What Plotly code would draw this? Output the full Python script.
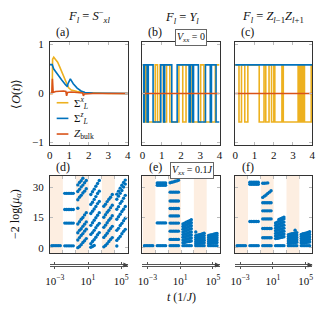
import plotly.graph_objects as go

W, H = 322, 313

# ---------------- data ----------------
# panel (a): F_l = S^-_{xl}
a_sx_t = [0, 0.12, 0.14, 0.2, 0.3, 0.4, 0.5, 0.6, 0.7, 0.8, 0.9, 0.95, 1.1, 1.4, 1.8, 2.2, 2.6, 3.0, 4.0]
a_sx_v = [0, 0.0, 0.70, 0.74, 0.69, 0.64, 0.55, 0.45, 0.36, 0.26, 0.16, 0.12, 0.07, 0.04, 0.02, 0.01, 0.0, 0.0, 0.0]
a_sz_t = [0, 0.12, 0.2, 0.4, 0.6, 0.8, 0.9, 0.93, 1.05, 1.2, 1.4, 1.6, 1.8, 2.2, 3.0, 4.0]
a_sz_v = [0.59, 0.59, 0.50, 0.38, 0.28, 0.18, 0.14, 0.20, 0.30, 0.20, 0.11, 0.05, 0.02, 0.01, 0.0, 0.0]
a_zb_t = [0, 0.1, 0.13, 0.17, 0.3, 0.5, 0.7, 0.82, 0.86, 0.9, 1.1, 1.4, 1.68, 1.72, 1.76, 2.2, 4.0]
a_zb_v = [0, 0, 0.30, 0.02, 0.04, 0.05, 0.05, 0.04, -0.05, 0.02, 0.03, 0.02, 0.01, -0.05, -0.01, 0, 0]

# panel (b): F_l = Y_l  (switching times, levels alternate)
lvl = 0.585
b_sx_t = [0, 0.06, 0.13, 0.18, 0.66, 0.78, 0.91, 1.08, 1.25, 1.42, 1.89, 2.09, 2.26, 2.52, 3.02, 3.19, 3.78, 4.0]
b_sz_t = [0, 0.06, 0.1, 0.24, 0.3, 0.55, 0.95, 1.1, 1.15, 1.52, 1.8, 2.42, 2.48, 2.6, 2.65, 2.9, 3.27, 3.52, 3.58, 3.82, 4.0]
b_zb_t = [0, 4.0]
b_zb_v = [0, 0]

# panel (c): F_l = Z_{l-1}Z_{l+1}
c_sx_t = [0, 0.2, 0.33, 0.5, 0.66, 1.25, 1.5, 1.59, 1.76, 1.89, 2.01, 2.06, 2.43, 2.5, 3.27, 3.34, 3.42, 3.5,
          3.55, 3.6, 3.95, 4.0]
c_sz_t = [0, 4.0]
c_sz_v = [lvl, lvl]
c_zb_t = [0, 4.0]
c_zb_v = [0, 0]

# entanglement spectra -2 log(mu_alpha): per band, lines of 6 columns
col_offsets = [0.15, 0.28, 0.41, 0.54, 0.67, 0.80]
shaded_bands = [0, 2, 4]

d_bands = [
    [[1.0] * 6],
    [[0.9] * 6, [12.2] * 6, [19.0] * 6, [27.0] * 6],
    [[0.0, 0.6, 1.5, 2.6, 3.4, 4.5],
     [3.8, 5.0, 6.1, 7.0, 8.2, 9.2],
     [7.4, 8.6, 9.4, 10.6, 11.7, 12.8],
     [11.8, 12.9, 14.1, 15.0, 16.3, 17.4],
     [19.6, None, None, None, None, None],
     [23.8, 25.1, 26.0, 27.2, 28.1, 29.3],
     [27.9, 29.0, 30.2, 31.1, 32.3, 33.4],
     [31.2, 32.4, 33.3, 34.5, None, None]],
    [[26.4, 27.8, 29.1, 30.5, 31.9, 33.4],
     [21.5, 22.6, 24.0, 25.4, 26.9, 28.1],
     [17.0, 18.1, 19.2, 20.5, 21.9, 23.0],
     [11.1, 12.4, 13.6, 14.9, 16.1, 17.4],
     [6.6, 7.5, 8.6, 9.9, 11.1, 12.1],
     [2.0, 3.1, 4.0, 5.2, 6.4, 7.5],
     [0.2, 0.6, 1.1, None, None, None]],
    [[20.6, 21.6, 22.9, 24.1, 25.1, 26.4],
     [15.1, 16.4, 17.6, 18.6, 19.9, 21.1],
     [10.1, 11.2, 12.4, 13.6, 14.6, 15.9],
     [5.1, 6.1, 7.2, 8.4, 9.5, 10.6],
     [0.4, 1.1, 2.0, 3.1, 4.1, 5.0]],
    [[24.1, 25.6, 27.0, 28.4, 30.1, 31.6],
     [26.6, 28.1, 29.6, 31.0, 32.4, 33.6],
     [19.1, 20.4, 22.0, 23.1, 24.6, 26.0],
     [14.1, 15.4, 16.6, 18.0, 19.1, 20.5],
     [8.6, 9.6, 11.0, 12.1, 13.4, 14.6],
     [3.6, 4.6, 5.6, 6.9, 8.1, 9.1],
     [0.8, None, None, None, None, None]],
]

e_bands = [
    [[1.0] * 6],
    [[1.0] * 6, [12.3] * 6, [31.0] * 6, [32.2] * 6],
    [[1.0] * 6, [4.1] * 6, [8.2] * 6, [12.2] * 6, [15.8] * 6, [19.5] * 6, [23.2] * 6, [27.6] * 6,
     [32.3, 32.5, 32.7, 33.0, 33.2, 33.5]],
    [[1.0] * 6,
     [2.5, 2.6, 2.8, 3.0, 3.1, 3.3],
     [3.8, 4.0, 4.2, 4.4, 4.6, 4.8],
     [5.2, 5.4, 5.6, 5.9, 6.1, 6.3],
     [6.5, 6.8, 7.0, 7.3, 7.6, 7.8],
     [7.8, 8.1, 8.4, 8.8, 9.1, 9.4],
     [9.2, 9.5, 9.8, 10.2, 10.6, 10.9],
     [10.5, 10.9, 11.2, 11.6, 12.0, 12.4],
     [11.8, 12.2, 12.6, 13.0, 13.4, 13.9]],
    [[1.0] * 6,
     [2.0, 2.1, 2.2, 2.3, 2.4, 2.5],
     [3.0, 3.1, 3.3, 3.4, 3.5, 3.7],
     [4.0, 4.1, 4.3, 4.5, 4.6, 4.8],
     [5.0, 5.2, 5.4, 5.6, 5.8, 6.0],
     [6.0, 6.2, 6.4, 6.6, 6.9, 7.2],
     [7.8, None, None, None, None, None]],
    [[1.0] * 6,
     [2.1, 2.2, 2.3, 2.4, 2.5, 2.6],
     [3.1, 3.2, 3.4, 3.5, 3.6, 3.8],
     [4.1, 4.3, 4.4, 4.6, 4.7, 4.9],
     [5.1, 5.3, 5.5, 5.7, 5.9, 6.1],
     [6.1, 6.3, 6.5, 6.7, 6.9, 7.1]],
]

f_bands = [
    [[1.0] * 6],
    [[1.0] * 6, [13.0] * 6, [31.5] * 6, [32.5] * 6],
    [[1.0] * 6, [4.9] * 6, [9.5] * 6, [14.3] * 6, [18.3] * 6, [22.3] * 6,
     [25.0, 25.6, 26.2, 26.9, 27.6, 28.3],
     [32.0, 32.0, 32.1, 32.2, None, None]],
    [[1.0] * 6,
     [4.5, 4.6, 4.8, 5.0, 5.2, 5.4],
     [5.8, 6.0, 6.2, 6.4, 6.6, 6.8],
     [7.1, 7.3, 7.5, 7.8, 8.0, 8.2],
     [8.4, 8.6, 8.9, 9.2, 9.4, 9.7],
     [9.7, 10.0, 10.3, 10.6, 10.9, 11.2],
     [11.0, 11.3, 11.7, 12.0, 12.4, 12.7],
     [12.3, 12.7, 13.1, 13.5, 13.9, 14.3],
     [None, None, 14.0, 14.4, 14.8, 15.2]],
    [[1.0] * 6,
     [2.2, 2.3, 2.4, 2.5, 2.6, 2.7],
     [3.3, 3.4, 3.5, 3.7, 3.8, 3.9],
     [4.4, 4.5, 4.7, 4.8, 5.0, 5.1],
     [5.5, 5.6, 5.8, 6.0, 6.2, 6.3],
     [6.5, 6.7, 6.9, 7.1, 7.3, 7.5],
     [None, None, None, None, 8.7, None]],
    [[1.0] * 6,
     [2.3, 2.4, 2.5, 2.6, 2.7, 2.8],
     [3.4, 3.5, 3.7, 3.8, 3.9, 4.1],
     [4.5, 4.7, 4.8, 5.0, 5.2, 5.3],
     [5.6, 5.8, 6.0, 6.2, 6.4, 6.6],
     [6.6, 6.9, 7.1, 7.3, 7.6, 7.9]],
]

titles = ["<i>F</i><sub><i>l</i></sub> = <i>S</i><sup>−</sup><sub><i>xl</i></sub>",
          "<i>F</i><sub><i>l</i></sub> = <i>Y</i><sub><i>l</i></sub>",
          "<i>F</i><sub><i>l</i></sub> = <i>Z</i><sub><i>l</i>−1</sub><i>Z</i><sub><i>l</i>+1</sub>"]
panel_labels = ["(a)", "(b)", "(c)", "(d)", "(e)", "(f)"]
legend_names = ["Σ<sup><i>x</i></sup><sub><i>L</i></sub>", "Σ<sup><i>z</i></sup><sub><i>L</i></sub>",
                "<i>Z</i><sub>bulk</sub>"]
time_ticks = [1e-3, 1e1, 1e5]
time_ticktext = ["10<sup>−3</sup>", "10<sup>1</sup>", "10<sup>5</sup>"]

# ---------------- style ----------------
YEL, BLU, RED = "#EDB120", "#0072BD", "#D95319"
FONT = "Liberation Serif"
SHADE = "#fdeee1"

col_px = [(46, 126), (141, 220), (236, 315)]
top_px = (39, 144)
bot_px = (176, 255)
arrow_y = 267


def xd(p):
    return [p[0] / W, p[1] / W]


def yd(p):
    return [1 - p[1] / H, 1 - p[0] / H]


def alt_levels(ts):
    vals = []
    for i in range(len(ts)):
        k = min(i, len(ts) - 2)
        vals.append(lvl if k % 2 == 0 else -lvl)
    return vals


def bands_xy(bands):
    xs, ys = [], []
    for b, lines in enumerate(bands):
        for line in lines:
            for j, v in enumerate(line):
                if v is not None:
                    xs.append(b + col_offsets[j])
                    ys.append(v)
    return xs, ys


fig = go.Figure()

# top row
top_series = [
    [(a_sx_t, a_sx_v, "linear"), (a_sz_t, a_sz_v, "linear"), (a_zb_t, a_zb_v, "linear")],
    [(b_sx_t, alt_levels(b_sx_t), "hv"), (b_sz_t, alt_levels(b_sz_t), "hv"), (b_zb_t, b_zb_v, "linear")],
    [(c_sx_t, alt_levels(c_sx_t), "hv"), (c_sz_t, c_sz_v, "linear"), (c_zb_t, c_zb_v, "linear")],
]
colors = [YEL, BLU, RED]
for p, series in enumerate(top_series):
    ax = "" if p == 0 else str(p + 1)
    for s, (t, v, shape) in enumerate(series):
        fig.add_trace(go.Scatter(x=t, y=v, mode="lines", line=dict(color=colors[s], width=1.6, shape=shape),
                                 name=legend_names[s], showlegend=False, xaxis="x" + ax, yaxis="y" + ax))

# bottom row
for p, bands in enumerate([d_bands, e_bands, f_bands]):
    xs, ys = bands_xy(bands)
    n = str(p + 4)
    fig.add_trace(go.Scatter(x=xs, y=ys, mode="markers", marker=dict(color=BLU, size=3.4),
                             showlegend=False, xaxis="x" + n, yaxis="y" + n))
    for b in shaded_bands:
        fig.add_shape(type="rect", xref="x" + n, yref="y" + n + " domain", x0=b, x1=b + 1, y0=0, y1=1,
                      fillcolor=SHADE, line_width=0, layer="below")

axis_common = dict(showline=True, linecolor="#333", linewidth=1, mirror="ticks", ticks="inside", ticklen=3,
                   tickcolor="#bbbbbb", showgrid=False, zeroline=False,
                   tickfont=dict(family=FONT, size=11, color="#111"))

layout = dict(width=W, height=H, margin=dict(l=0, r=0, t=0, b=0), paper_bgcolor="white",
              plot_bgcolor="rgba(0,0,0,0)", font=dict(family=FONT, color="#111"), showlegend=False)

for p in range(3):
    ax = "" if p == 0 else str(p + 1)
    layout["xaxis" + ax] = dict(domain=xd(col_px[p]), anchor="y" + ax, range=[0, 4], tickvals=[0, 1, 2, 3, 4],
                                **axis_common)
    layout["yaxis" + ax] = dict(domain=yd(top_px), anchor="x" + ax, range=[-1.05, 1.05], tickvals=[-1, 0, 1],
                                ticktext=["−1", "0", "1"], showticklabels=(p == 0), ticklabelstandoff=3,
                                **axis_common)
    n = str(p + 4)
    layout["xaxis" + n] = dict(domain=xd(col_px[p]), anchor="y" + n, range=[0, 6], tickvals=[1, 2, 3, 4, 5],
                               showticklabels=False, **axis_common)
    layout["yaxis" + n] = dict(domain=yd(bot_px), anchor="x" + n, range=[-2.8, 35.6], tickvals=[0, 15, 30],
                               showticklabels=(p == 0), ticklabelstandoff=3, **axis_common)
    m = str(p + 7)
    layout["xaxis" + m] = dict(domain=xd(col_px[p]), anchor="y7", type="log", range=[-3.6, 5.8],
                               tickvals=time_ticks, ticktext=time_ticktext, showline=True, linecolor="#555",
                               linewidth=1, mirror="ticks", ticks="outside", ticklen=2, tickcolor="#555",
                               showgrid=False, zeroline=False, ticklabelstandoff=3,
                               tickfont=dict(family=FONT, size=11, color="#111"))
layout["yaxis7"] = dict(domain=[1 - (arrow_y + 0.5) / H, 1 - (arrow_y - 0.5) / H], anchor="x7", visible=False,
                        range=[0, 1])

fig.update_layout(**layout)
for m in ["7", "8", "9"]:
    fig.add_trace(go.Scatter(x=[], y=[], xaxis="x" + m, yaxis="y7", showlegend=False))

ann = []
shapes = []


def text_ann(text, xp, yp, size, **kw):
    d = dict(text=text, x=xp / W, y=1 - yp / H, xref="paper", yref="paper", showarrow=False,
             xanchor="center", yanchor="middle", font=dict(family=FONT, size=size))
    d.update(kw)
    return d


title_x = [86, 181, 275]
title_y = [12, 14, 13]
for p in range(3):
    ann.append(text_ann(titles[p], title_x[p], title_y[p], 12.5))
label_x = [59, 154, 249]
for p in range(3):
    ann.append(text_ann(panel_labels[p], label_x[p], 29, 12))
    ann.append(text_ann(panel_labels[p + 3], label_x[p], 167, 12))
ann.append(text_ann("<i>V</i><sub><i>xx</i></sub> = 0", 190.5, 34.5, 10, bgcolor="white",
                    bordercolor="#666", borderwidth=1, borderpad=1))
ann.append(text_ann("<i>V</i><sub><i>xx</i></sub> = 0.1<i>J</i>", 191.5, 170.5, 10, bgcolor="white",
                    bordercolor="#666", borderwidth=1, borderpad=1))
ann.append(text_ann("⟨<i>O</i>(<i>t</i>)⟩", 11, 92, 12, textangle=-90))
ann.append(text_ann("−2 log(<i>μ</i><sub><i>α</i></sub>)", 11, 215, 12, textangle=-90))
ann.append(text_ann("<i>t</i> (1/<i>J</i>)", 181, 300, 12))
for p in range(3):
    ann.append(dict(text="", x=(col_px[p][1] + 0.5) / W, y=1 - arrow_y / H, xref="paper", yref="paper",
                    showarrow=True, ax=-7, ay=0, arrowhead=2, arrowsize=1, arrowwidth=1, arrowcolor="#444"))

# legend of panel (a): short line samples with labels
leg_y = [101, 117, 133]
for s in range(3):
    shapes.append(dict(type="line", xref="paper", yref="paper", x0=53 / W, x1=65 / W,
                       y0=1 - leg_y[s] / H, y1=1 - leg_y[s] / H, line=dict(color=colors[s], width=1.6)))
    ann.append(text_ann(legend_names[s], 69, leg_y[s], 11, xanchor="left"))

fig.update_layout(annotations=ann)
for sh in shapes:
    fig.add_shape(**sh)

fig.write_html("out.html", config={"displayModeBar": False},
               post_script="document.body.style.margin='0';document.body.style.padding='0';"
                           "document.documentElement.style.overflow='hidden';")
